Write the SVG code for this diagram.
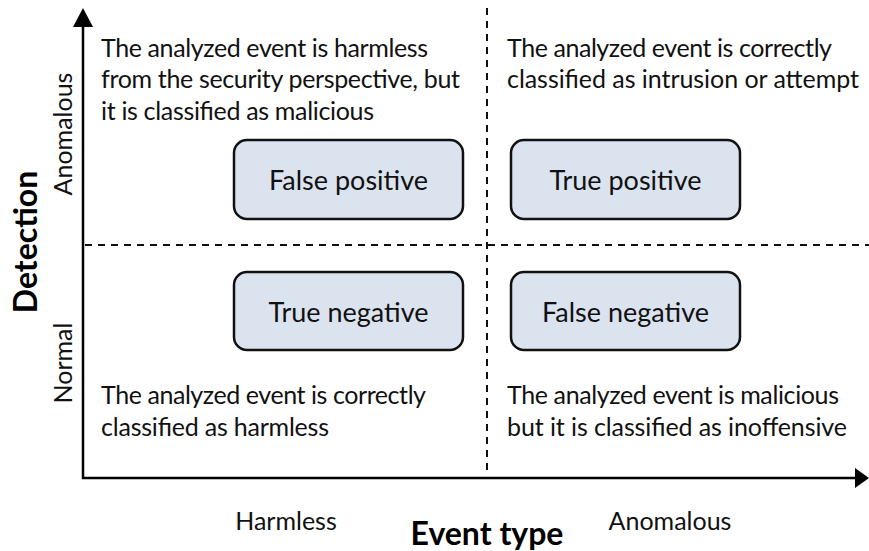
<svg xmlns="http://www.w3.org/2000/svg" width="869" height="551" viewBox="0 0 869 551">
  <style>
    .body { font-family: Lato, "Open Sans", "Liberation Sans", sans-serif; font-size: 25px; fill: #111; }
    .box rect { fill: #dbe3ef; stroke: #111; stroke-width: 2.5; }
    .box text { font-family: Lato, "Open Sans", "Liberation Sans", sans-serif; font-size: 27px; fill: #111; text-anchor: middle; }
    .title { font-family: Lato, "Open Sans", "Liberation Sans", sans-serif; font-size: 32px; font-weight: bold; fill: #000; text-anchor: middle; }
    .axis { stroke: #000; stroke-width: 2.5; fill: none; }
    .dash { stroke: #111; stroke-width: 2; stroke-dasharray: 7 6; fill: none; }
    .mid { text-anchor: middle; }
  </style>

  <!-- axes and quadrant separators -->
  <g id="connectors">
    <line class="dash" x1="85" y1="245" x2="869" y2="245"/>
    <line class="dash" x1="487" y1="8" x2="487" y2="472"/>
    <path class="axis" d="M83 26 V478 H856"/>
    <polygon points="73,27 93,27 83,8" fill="#000"/>
    <polygon points="855,468 855,488 869,478" fill="#000"/>
  </g>

  <!-- axis titles and ticks -->
  <text class="title" x="487" y="545">Event type</text>
  <text class="title" transform="translate(37,242) rotate(-90)">Detection</text>
  <text class="body mid" x="286" y="530">Harmless</text>
  <text class="body mid" x="670" y="530">Anomalous</text>
  <text class="body mid" transform="translate(72,134) rotate(-90)">Anomalous</text>
  <text class="body mid" transform="translate(72,363) rotate(-90)">Normal</text>

  <!-- quadrant descriptions -->
  <g id="desc-fp">
    <text class="body" x="101" y="57" textLength="327">The analyzed event is harmless</text>
    <text class="body" x="101" y="88" textLength="359">from the security perspective, but</text>
    <text class="body" x="101" y="120" textLength="273">it is classified as malicious</text>
  </g>
  <g id="desc-tp">
    <text class="body" x="507" y="57" textLength="325">The analyzed event is correctly</text>
    <text class="body" x="507" y="88" textLength="352">classified as intrusion or attempt</text>
  </g>
  <g id="desc-tn">
    <text class="body" x="101" y="404" textLength="325">The analyzed event is correctly</text>
    <text class="body" x="101" y="436" textLength="228">classified as harmless</text>
  </g>
  <g id="desc-fn">
    <text class="body" x="507" y="404" textLength="332">The analyzed event is malicious</text>
    <text class="body" x="507" y="436" textLength="340">but it is classified as inoffensive</text>
  </g>

  <!-- outcome boxes -->
  <g id="false-positive" class="box">
    <rect x="234" y="140" width="229" height="79" rx="13"/>
    <text x="348.5" y="190">False positive</text>
  </g>
  <g id="true-positive" class="box">
    <rect x="511" y="140" width="229" height="79" rx="13"/>
    <text x="625.5" y="190">True positive</text>
  </g>
  <g id="true-negative" class="box">
    <rect x="234" y="272" width="229" height="78" rx="13"/>
    <text x="348.5" y="322">True negative</text>
  </g>
  <g id="false-negative" class="box">
    <rect x="511" y="272" width="229" height="78" rx="13"/>
    <text x="625.5" y="322">False negative</text>
  </g>
</svg>
